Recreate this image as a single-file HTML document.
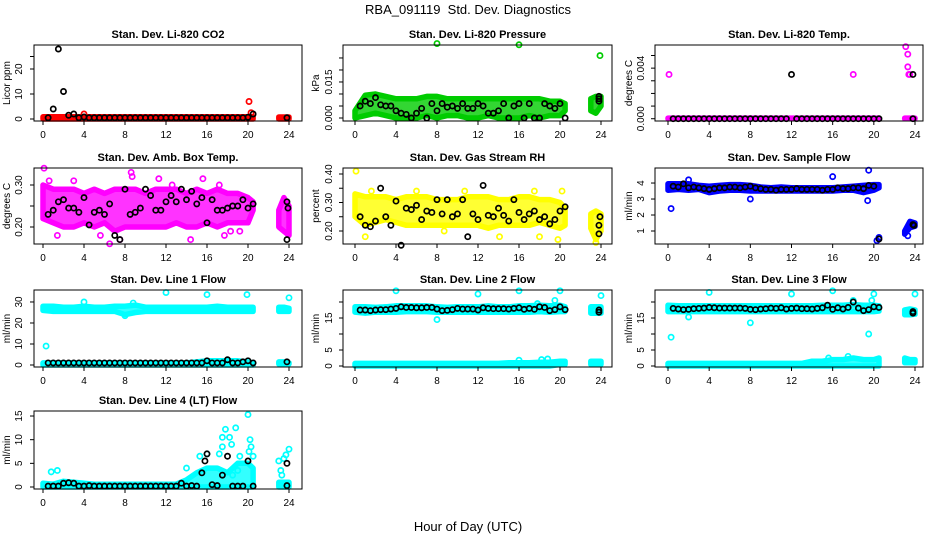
<!DOCTYPE html>
<html><head><meta charset="utf-8">
<style>
html,body{margin:0;padding:0;background:#fff;}
svg{display:block;font-family:"Liberation Sans",sans-serif;}
</style></head>
<body>
<svg id="fig" width="936" height="540" viewBox="0 0 936 540">
<text x="468" y="14" text-anchor="middle" font-size="13">RBA_091119&#160; Std. Dev. Diagnostics</text>
<text x="468" y="531" text-anchor="middle" font-size="13">Hour of Day (UTC)</text>
</svg>
<script>
const T  = [0,1,2,3,4,5,6,7,8,9,10,11,12,13,14,15,16,17,18,19,20,20.5];
const TL = [23,23.5,24];
const TB = [0.5,1,1.5,2,2.5,3,3.5,4,4.5,5,5.5,6,6.5,7,7.5,8,8.5,9,9.5,10,10.5,11,11.5,12,12.5,13,13.5,14,14.5,15,15.5,16,16.5,17,17.5,18,18.5,19,19.5,20,20.5];
const xTicks = [0,4,8,12,16,20,24];

// CO2
const co2Lo = [0,0,0,0,0,0,0,0,0,0,0,0,0,0,0,0,0,0,0,0,0,0];
const co2Hi = [0.9,0.9,0.9,0.9,0.9,0.9,0.9,0.9,0.9,0.9,0.9,0.9,0.9,0.9,0.9,0.9,0.9,0.9,0.9,0.9,0.9,0.9];
const co2LateLo = [0,0,0];
const co2LateHi = [0.8,0.8,0.8];
const co2ExX = [4,20.1,20.3];
const co2ExY = [2,7,2.5];
const co2Black = [0.5,4,28,11,1.5,2,0.5,0.8,0.5,0.5,0.5,0.5,0.5,0.5,0.5,0.5,0.5,0.5,0.5,0.5,0.5,0.5,0.5,0.5,0.5,0.5,0.5,0.5,0.5,0.5,0.5,0.5,0.5,0.5,0.5,0.5,0.5,0.5,0.5,0.7,2];
const co2BlkX = [23.8];
const co2BlkY = [0.5];

// Pressure
const presLo = [0,0.001,0.002,0.001,0,0,0,0.001,0,0.001,0.001,0,0,0.001,0,0,0,0.001,0,0.001,0.001,0.003];
const presHi = [0.003,0.0095,0.010,0.009,0.008,0.008,0.008,0.009,0.009,0.008,0.008,0.008,0.008,0.008,0.008,0.008,0.008,0.008,0.008,0.007,0.007,0.006];
const presLateLo = [0.003,0.002,0.005];
const presLateHi = [0.008,0.009,0.009];
const presExX = [8,16,23.9];
const presExY = [0.031,0.0305,0.026];
const presBlack = [0.005,0.007,0.006,0.0085,0.0055,0.005,0.005,0.003,0.002,0.0015,0.0,0.002,0.004,0.0,0.006,0.003,0.006,0.0045,0.005,0.004,0.006,0.004,0.004,0.006,0.005,0.002,0.002,0.003,0.006,0,0.005,0.006,0,0.006,0,0,0.006,0.005,0.004,0.006,0];
const presBlkX = [23.8,23.8,23.8];
const presBlkY = [0.007,0.008,0.009];

// Li-820 Temp
const tempLo = [0,0,0,0,0,0,0,0,0,0,0,0,0,0,0,0,0,0,0,0,0,0];
const tempHi = [0.00005,0.00005,0.00005,0.00005,0.00005,0.00005,0.00005,0.00005,0.00005,0.00005,0.00005,0.00005,0.00005,0.00005,0.00005,0.00005,0.00005,0.00005,0.00005,0.00005,0.00005,0.00005];
const tempLateLo = [0,0,0];
const tempLateHi = [0.00005,0.00005,0.00005];
const tempExX = [0.1,18,23.1,23.3,23.3,23.4,23.5];
const tempExY = [0.0035,0.0035,0.0057,0.0051,0.0041,0.0035,0.0035];
const tempBlack = [0,0,0,0,0,0,0,0,0,0,0,0,0,0,0,0,0,0,0,0,0,0,0,0.0035,0,0,0,0,0,0,0,0,0,0,0,0,0,0,0,0,0];
const tempBlkX = [23.8,23.8];
const tempBlkY = [0.0035,0];

// Amb box temp
const ambLo = [0.22,0.21,0.20,0.20,0.21,0.20,0.21,0.19,0.20,0.20,0.20,0.20,0.20,0.21,0.20,0.20,0.21,0.20,0.21,0.21,0.21,0.24];
const ambHi = [0.30,0.29,0.29,0.29,0.28,0.29,0.28,0.29,0.29,0.29,0.28,0.29,0.29,0.29,0.28,0.29,0.28,0.29,0.28,0.28,0.27,0.26];
const ambLateLo = [0.20,0.19,0.18];
const ambLateHi = [0.24,0.27,0.25];
const ambExX = [0.1,0.6,1.4,3,8.6,8.7,6.5,5.6,11.3,12.6,14.4,15.6,17.2,17.7,18.3,19.2,7.5];
const ambExY = [0.34,0.31,0.18,0.31,0.33,0.32,0.16,0.18,0.315,0.30,0.17,0.315,0.30,0.18,0.19,0.19,0.17];
const ambBlack = [0.23,0.24,0.26,0.265,0.245,0.245,0.235,0.27,0.205,0.235,0.24,0.23,0.255,0.18,0.17,0.29,0.23,0.235,0.245,0.29,0.275,0.24,0.24,0.26,0.275,0.26,0.29,0.265,0.285,0.255,0.27,0.21,0.265,0.24,0.24,0.245,0.25,0.25,0.265,0.245,0.255];
const ambBlkX = [23.8,23.8,23.9];
const ambBlkY = [0.17,0.26,0.245];

// Gas stream RH
const rhLo = [0.25,0.22,0.23,0.24,0.23,0.22,0.22,0.22,0.22,0.22,0.22,0.22,0.22,0.21,0.22,0.22,0.22,0.22,0.23,0.22,0.21,0.22];
const rhHi = [0.33,0.32,0.32,0.32,0.31,0.32,0.32,0.32,0.31,0.31,0.31,0.32,0.32,0.32,0.31,0.31,0.32,0.32,0.31,0.31,0.30,0.28];
const rhLateLo = [0.21,0.17,0.20];
const rhLateHi = [0.26,0.27,0.26];
const rhExX = [0.1,1,1.6,6,8.7,10.7,14.1,17.5,18,19.8,20.2,23.5];
const rhExY = [0.41,0.18,0.34,0.34,0.20,0.34,0.18,0.34,0.18,0.17,0.34,0.16];
const rhBlack = [0.25,0.22,0.215,0.235,0.35,0.25,0.22,0.305,0.15,0.28,0.275,0.29,0.24,0.27,0.265,0.31,0.26,0.31,0.25,0.26,0.31,0.18,0.26,0.24,0.36,0.255,0.25,0.28,0.255,0.235,0.31,0.265,0.24,0.26,0.27,0.24,0.25,0.225,0.24,0.27,0.285];
const rhBlkX = [23.8,23.8,23.9];
const rhBlkY = [0.19,0.22,0.25];

// Sample flow
const sampLo = [3.55,3.6,3.55,3.6,3.4,3.5,3.55,3.55,3.5,3.5,3.5,3.5,3.5,3.5,3.5,3.5,3.5,3.55,3.55,3.4,3.55,3.7];
const sampHi = [3.95,3.95,3.95,3.85,3.8,3.85,3.9,3.9,3.85,3.75,3.7,3.75,3.7,3.7,3.7,3.7,3.7,3.75,3.8,3.85,3.9,3.9];
const sampLateLo = [0.8,1.2,1.3];
const sampLateHi = [1.0,1.6,1.5];
const sampExX = [0.3,2,8,16,19.5,19.4,20.3,20.5,23.3];
const sampExY = [2.4,4.2,3.0,4.4,4.8,2.9,0.4,0.6,0.7];
const sampBlack = [3.8,3.75,3.95,3.7,3.75,3.7,3.65,3.6,3.65,3.7,3.7,3.75,3.75,3.7,3.75,3.8,3.7,3.65,3.6,3.6,3.55,3.6,3.6,3.6,3.65,3.6,3.6,3.6,3.6,3.55,3.6,3.6,3.7,3.65,3.65,3.7,3.7,3.65,3.85,3.8,0.5];
const sampBlkX = [23.8,23.9];
const sampBlkY = [1.4,1.35];

// Line 1
const l1Lo = [26,25.5,25.5,25.5,25.5,25.5,25.5,25.5,24,25,25.5,25.5,25.5,25.5,25.5,25.5,25.5,25.5,25.5,25.5,25.5,25.5];
const l1Hi = [28,28,27.5,27.5,28,27.5,27.5,28,28,28.5,27.5,27.5,27.5,27.5,27.5,27.5,27.5,28,27.5,27.5,27.5,27.5];
const l1LateLo = [25.5,25.5,25.5];
const l1LateHi = [27.5,27.5,27];
const l1BLo = [0,0,0,0,0,0,0,0,0,0,0,0,0,0,0,0,0,0,0,0,0,0];
const l1BHi = [1,1,1,1,1,1,1,1,1,1,1,1,1,1,1,1.5,2,2,2,2,1.5,1];
const l1BLateLo = [0.5,0.5,0.5];
const l1BLateHi = [1.5,1.5,1];
const l1ExX = [0.3,4,12,16,19.9,24,8,8.8];
const l1ExY = [9,30,34.5,33.5,33.5,32,23.5,29.5];
const l1Black = [1,1,1,1,1,1,1,1,1,1,1,1,1,1,1,1,1,1,1,1,1,1,1,1,1,1,1,1,1,1,1,2,1,1,1,2.5,1,1,1.5,2,1];
const l1BlkX = [23.8];
const l1BlkY = [1.5];

// Line 2
const l2Lo = [16.8,16.5,16.8,16.8,16.8,17,17,17,16.8,16.8,16.8,16.8,16.8,16.8,16.8,16.8,16.8,16.8,17,16.8,17,17];
const l2Hi = [18.5,18.5,18.3,18.5,18.8,18.8,18.8,18.8,18.5,18.3,18.5,18.5,18.5,18.8,18.5,18.5,18.8,18.8,19,18.8,19,18.5];
const l2LateLo = [16.5,16.5,16.5];
const l2LateHi = [18.5,18.5,18.5];
const l2BLo = [0,0,0,0,0,0,0,0,0,0,0,0,0,0,0,0,0,0,0,0,0.5,0.5];
const l2BHi = [0.8,0.8,0.8,0.8,0.8,0.8,0.8,0.8,0.8,0.8,0.8,0.8,0.8,0.8,0.8,1,1,1,1.2,1.2,1.5,1.5];
const l2BLateLo = [0.5,0.5,0.5];
const l2BLateHi = [1.5,1.5,1.5];
const l2ExX = [4,12,16,20,24,8,19.5,17.8,18.2,18.8,16];
const l2ExY = [23.5,22.5,23.5,23.5,22,14.5,20.5,19.5,2,2.2,1.8];
const l2Black = [17.5,17.5,17.3,17.5,17.6,17.6,17.8,18,18.5,18.3,18.3,18.2,18.2,18.3,18.3,17.8,17.3,17.4,17.6,18,17.8,17.8,17.8,17.5,18.2,18,17.9,17.9,17.9,17.8,18,18.2,17.7,18,17.7,18.5,18.3,17.3,17.6,18.5,17.6];
const l2BlkX = [23.8,23.8];
const l2BlkY = [17.5,16.8];

// Line 3
const l3Lo = [17,17,17,17,17,17,17,17,17,17,17,17,17,17,17,17,17,17,17,17,17,17.2];
const l3Hi = [19,18.8,18.8,18.8,18.8,18.8,18.8,18.8,18.8,18.8,18.8,18.8,18.8,18.8,18.8,19,19,19,19.2,19,19,18.8];
const l3LateLo = [16,16,16.2];
const l3LateHi = [17.5,17.8,17.5];
const l3BLo = [0,0,0,0,0,0,0,0,0,0,0,0,0,0,0,0,0,0,0,0,0,0];
const l3BHi = [0.8,0.8,0.8,0.8,0.8,0.8,0.8,0.8,0.8,0.8,0.8,0.8,0.8,0.8,1.5,1.5,2,2,2.5,2,2,2.5];
const l3BLateLo = [1,1,1];
const l3BLateHi = [2.5,2,2];
const l3ExX = [0.3,4,12,16,20,24,8,2,19.5,18,19.8,17.5,15.6];
const l3ExY = [9,23,22.5,23.5,22.5,22.5,13.5,15.3,10,20.5,20.5,3,2.5];
const l3Black = [18,17.8,17.6,17.7,17.9,18,18.1,18.3,18.2,18.1,18.1,18.1,18.1,18.1,18,17.7,17.6,17.8,17.9,18.1,18,18.2,17.8,18,18.1,17.9,17.9,17.8,18,18.2,19,17.7,18.2,17.8,18.3,20,18.1,17.3,17.6,18.5,18.3];
const l3BlkX = [23.8,23.8];
const l3BlkY = [17,16.5];

// Line 4
const l4Lo = [0,0,0,0,0,0,0,0,0,0,0,0,0,0,0,0,0,0,0,0,0,0];
const l4Hi = [0.8,0.6,1.2,1,0.8,0.6,0.6,0.6,0.6,0.6,0.6,0.6,0.6,0.6,1.5,3,4,4,3,5,5,4];
const l4LateLo = [0,0,0];
const l4LateHi = [1,1,1];
const l4ExX = [0.8,1.4,14,15.3,16,17.2,17.5,17.8,17.5,18.2,18.4,18.8,19.2,19,20,20.2,20.3,20.5,20.1,18.5,23,23.5,23.7,24,23.3,23.2];
const l4ExY = [3.2,3.5,4,6.5,7,7,8.5,12.2,10.5,10.5,9,12.5,6.5,3.5,15.3,10,8.5,6.5,7.5,2.5,5.5,6,6.8,8,2.5,3.5];
const l4Black = [0.2,0.2,0.2,0.8,0.9,0.8,0.2,0.2,0.3,0.2,0.2,0.2,0.2,0.2,0.2,0.2,0.2,0.2,0.2,0.2,0.2,0.2,0.2,0.2,0.2,0.2,0.8,0.2,0.3,0.2,3,7,0.5,0.3,2.5,6.5,0.2,0.2,0.2,5.5,0.2];
const l4BlkX = [23.8,23.8,15.8];
const l4BlkY = [5,0.3,5.5];

const NS = 'http://www.w3.org/2000/svg';
const svg = document.getElementById('fig');
function mk(tag, attrs, parent){
  const e = document.createElementNS(NS, tag);
  for (const k in attrs) e.setAttribute(k, attrs[k]);
  (parent||svg).appendChild(e);
  return e;
}

const cols = [{x0:34,x1:302,h0:43,h24:289,lab:22,tit:10},{x0:343,x1:612,h0:355,h24:601,lab:332,tit:319},{x0:655,x1:923,h0:668,h24:915,lab:644,tit:632}];
const rows = [{y0:45,y1:121},{y0:168,y1:244},{y0:290,y1:367},{y0:411,y1:489}];

function panel(name, title, ylab, col, row, ymin, ymax, ticks, tickLabels, color, bands, exX, exY, blkY, blkX2, blkY2){
  const C = cols[col], R = rows[row];
  const g = mk('g', {});
  
  
  const xs = h => C.h0 + (h/24)*(C.h24 - C.h0);
  const ys = v => R.y1 - (v - ymin)/(ymax - ymin)*(R.y1 - R.y0);
  const cx = (C.x0 + C.x1)/2;
  const t = mk('text', {x:cx, y:R.y0-7, 'text-anchor':'middle', 'font-size':11, 'font-weight':'bold'}, g);
  t.textContent = title;
  
  
  bands.forEach(b => {
    const pts = [];
    b.x.forEach((h,i) => pts.push(xs(h).toFixed(1)+','+ys(b.lo[i]).toFixed(1)));
    for (let i=b.x.length-1;i>=0;i--) pts.push(xs(b.x[i]).toFixed(1)+','+ys(b.hi[i]).toFixed(1));
    const p = mk('polygon', {points:pts.join(' '), fill:color, 'fill-opacity':0.8, stroke:color, 'stroke-width':5.5, 'stroke-linejoin':'round'}, g);
    
    
  });
  exX.forEach((h,i) => {
    const c = mk('circle', {cx:xs(h), cy:ys(exY[i]), r:2.6, fill:'none', stroke:color, 'stroke-width':1.7}, g);
    
    
  });
  TB.forEach((h,i) => {
    const c = mk('circle', {cx:xs(h), cy:ys(blkY[i]), r:2.6, fill:'none', stroke:'#000', 'stroke-width':1.7}, g);
    
    
  });
  blkX2.forEach((h,i) => {
    const c = mk('circle', {cx:xs(h), cy:ys(blkY2[i]), r:2.6, fill:'none', stroke:'#000', 'stroke-width':1.7}, g);
    
    
  });
  const box = mk('rect', {x:C.x0, y:R.y0, width:C.x1-C.x0, height:R.y1-R.y0, fill:'none', stroke:'#000', 'stroke-width':1}, g);
  
  
  const xa = mk('g', {}, g);
  
  
  mk('line', {x1:xs(0), x2:xs(24), y1:R.y1, y2:R.y1, stroke:'#000'}, xa);
  xTicks.forEach(v => {
    mk('line', {x1:xs(v), x2:xs(v), y1:R.y1, y2:R.y1+4, stroke:'#000'}, xa);
    const tl = mk('text', {x:xs(v), y:R.y1+17, 'text-anchor':'middle', 'font-size':10}, xa);
    tl.textContent = v;
  });
  const ya = mk('g', {}, g);
  
  
  mk('line', {x1:C.x0, x2:C.x0, y1:ys(ticks[0]), y2:ys(ticks[ticks.length-1]), stroke:'#000'}, ya);
  ticks.forEach((v,i) => {
    mk('line', {x1:C.x0-4, x2:C.x0, y1:ys(v), y2:ys(v), stroke:'#000'}, ya);
    if (tickLabels[i]) {
      const tl = mk('text', {x:C.lab, y:ys(v), 'text-anchor':'middle', 'font-size':10, transform:'rotate(-90 '+C.lab+' '+ys(v)+')'}, ya);
      tl.textContent = tickLabels[i];
    }
  });
  const yl = mk('text', {x:C.tit, y:(R.y0+R.y1)/2, 'text-anchor':'middle', 'font-size':10, transform:'rotate(-90 '+C.tit+' '+(R.y0+R.y1)/2+')'}, g);
  yl.textContent = ylab;
  
  
}

const RED='#ff0000', GRN='#00cc00', MAG='#ff00ff', YEL='#ffff00', BLU='#0000ff', CYA='#00ffff';
panel('co2','Stan. Dev. Li-820 CO2','Licor ppm',0,0,-0.8,29.6,[0,10,20,25],['0','10','20',''],RED,
  [{x:T,lo:co2Lo,hi:co2Hi},{x:TL,lo:co2LateLo,hi:co2LateHi}],co2ExX,co2ExY,co2Black,co2BlkX,co2BlkY);
panel('pressure','Stan. Dev. Li-820 Pressure','kPa',1,0,-0.00125,0.0304,[0,0.005,0.01,0.015,0.02,0.025],['0.000','','','0.015','',''],GRN,
  [{x:T,lo:presLo,hi:presHi},{x:TL,lo:presLateLo,hi:presLateHi}],presExX,presExY,presBlack,presBlkX,presBlkY);
panel('li820-temp','Stan. Dev. Li-820 Temp.','degrees C',2,0,-0.00018,0.00583,[0,0.001,0.002,0.003,0.004,0.005],['0.000','','','','0.004',''],MAG,
  [{x:T,lo:tempLo,hi:tempHi},{x:TL,lo:tempLateLo,hi:tempLateHi}],tempExX,tempExY,tempBlack,tempBlkX,tempBlkY);
panel('amb-box-temp','Stan. Dev. Amb. Box Temp.','degrees C',0,1,0.1595,0.3405,[0.2,0.25,0.3],['0.20','','0.30'],MAG,
  [{x:T,lo:ambLo,hi:ambHi},{x:TL,lo:ambLateLo,hi:ambLateHi}],ambExX,ambExY,ambBlack,ambBlkX,ambBlkY);
panel('gas-rh','Stan. Dev. Gas Stream RH','percent',1,1,0.1544,0.421,[0.2,0.25,0.3,0.35,0.4],['0.20','','0.30','','0.40'],YEL,
  [{x:T,lo:rhLo,hi:rhHi},{x:TL,lo:rhLateLo,hi:rhLateHi}],rhExX,rhExY,rhBlack,rhBlkX,rhBlkY);
panel('sample-flow','Stan. Dev. Sample Flow','ml/min',2,1,0.1875,4.94,[1,2,3,4],['1','2','3','4'],BLU,
  [{x:T,lo:sampLo,hi:sampHi},{x:TL,lo:sampLateLo,hi:sampLateHi}],sampExX,sampExY,sampBlack,sampBlkX,sampBlkY);
panel('line1-flow','Stan. Dev. Line 1 Flow','ml/min',0,2,-0.95,35.7,[0,10,20,30],['0','10','20','30'],CYA,
  [{x:T,lo:l1Lo,hi:l1Hi},{x:TL,lo:l1LateLo,hi:l1LateHi},{x:T,lo:l1BLo,hi:l1BHi},{x:TL,lo:l1BLateLo,hi:l1BLateHi}],l1ExX,l1ExY,l1Black,l1BlkX,l1BlkY);
panel('line2-flow','Stan. Dev. Line 2 Flow','ml/min',1,2,-0.31,23.75,[0,5,10,15,20],['0','5','','15',''],CYA,
  [{x:T,lo:l2Lo,hi:l2Hi},{x:TL,lo:l2LateLo,hi:l2LateHi},{x:T,lo:l2BLo,hi:l2BHi},{x:TL,lo:l2BLateLo,hi:l2BLateHi}],l2ExX,l2ExY,l2Black,l2BlkX,l2BlkY);
panel('line3-flow','Stan. Dev. Line 3 Flow','ml/min',2,2,-0.31,23.75,[0,5,10,15,20],['0','5','','15',''],CYA,
  [{x:T,lo:l3Lo,hi:l3Hi},{x:TL,lo:l3LateLo,hi:l3LateHi},{x:T,lo:l3BLo,hi:l3BHi},{x:TL,lo:l3BLateLo,hi:l3BLateHi}],l3ExX,l3ExY,l3Black,l3BlkX,l3BlkY);
panel('line4-flow','Stan. Dev. Line 4 (LT) Flow','ml/min',0,3,-0.42,16.06,[0,5,10,15],['0','5','10','15'],CYA,
  [{x:T,lo:l4Lo,hi:l4Hi},{x:TL,lo:l4LateLo,hi:l4LateHi}],l4ExX,l4ExY,l4Black,l4BlkX,l4BlkY);
</script>
</body></html>
